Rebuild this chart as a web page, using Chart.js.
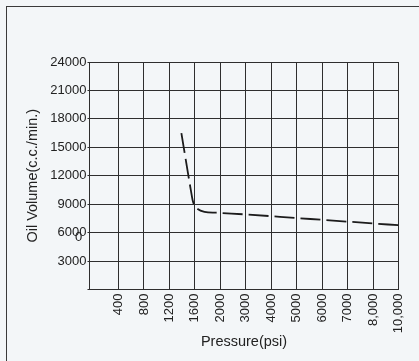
<!DOCTYPE html>
<html>
<head>
<meta charset="utf-8">
<script src="https://cdn.jsdelivr.net/npm/chart.js@4.4.1/dist/chart.umd.min.js"></script>
<style>
  html, body { margin:0; padding:0; background:#f3f6f8; }
  body { width:419px; height:361px; position:relative; overflow:hidden; }
  .frame { position:absolute; left:6px; top:6px; width:600px; height:600px; border:1px solid #3a3a3a; box-sizing:border-box; }
  #chart { position:absolute; left:0; top:0; }
</style>
</head>
<body>
<div class="frame"></div>
<canvas id="chart" width="419" height="361"></canvas>
<script>
// pressure categories along the x axis (one grid column each)
const pressureLabels = ['400','800','1200','1600','2000','3000','4000','5000','6000','7000','8,000','10,000'];
// y axis ticks
const volumeTicks = [0, 3000, 6000, 9000, 12000, 15000, 18000, 21000, 24000];
// curve: position along the category axis (1 = first label) and oil volume
const curvePos = [3.47, 3.74, 3.84, 3.91, 3.98, 4.11, 4.38, 4.84, 6, 8, 10, 12];
const curveVol = [16500, 12100, 10500, 9450, 8900, 8500, 8200, 8100, 7920, 7540, 7160, 6780];

const ink = '#222';
const gridInk = '#2e2e2e';
const font = "'Liberation Sans', Arial, sans-serif";

// the stray "0" printed under the 6000 label
const strayZero = {
  id:'strayZero',
  afterDraw(chart){
    const y = chart.scales.y;
    const ctx = chart.ctx;
    ctx.save();
    ctx.font = '13px ' + font;
    ctx.fillStyle = ink;
    ctx.textAlign = 'center';
    ctx.textBaseline = 'middle';
    ctx.fillText('0', y.right - 3 - 8, y.getPixelForValue(6000) + 5);
    ctx.restore();
  }
};

new Chart(document.getElementById('chart'), {
  type:'line',
  data:{
    datasets:[{
      data: curvePos.map((p,k)=>({x:p, y:curveVol[k]})),
      borderColor:'#1c1c1c',
      borderWidth:1.8,
      borderDash:[20,6],
      pointRadius:0,
      cubicInterpolationMode:'monotone',
      fill:false
    }]
  },
  options:{
    responsive:false,
    animation:false,
    layout:{ padding:{ top:62, right:20.5, left:0, bottom:0 } },
    plugins:{ legend:{display:false}, tooltip:{enabled:false} },
    scales:{
      x:{
        type:'linear',
        min:-0.14,
        max:pressureLabels.length,
        afterBuildTicks:(s)=>{ s.ticks = pressureLabels.map((_,k)=>({value:k+1})); },
        afterFit:(s)=>{ s.height = 361 - 289.5; },
        grid:{ color:gridInk, lineWidth:1, drawTicks:false },
        border:{ display:true, color:gridInk, width:1 },
        ticks:{
          autoSkip:false, minRotation:90, maxRotation:90, padding:4,
          color:ink, font:{family:font, size:13},
          callback:(v)=>pressureLabels[v-1] ?? ''
        },
        title:{ display:true, text:'Pressure(psi)', color:ink, font:{family:font, size:14.5}, padding:{top:0, bottom:10.5} }
      },
      y:{
        min:volumeTicks[0],
        max:volumeTicks[volumeTicks.length-1],
        afterBuildTicks:(s)=>{ s.ticks = volumeTicks.map(v=>({value:v})); },
        afterFit:(s)=>{ s.width = 89.5; },
        grid:{ color:gridInk, lineWidth:1, tickLength:2 },
        border:{ display:true, color:gridInk, width:1 },
        ticks:{
          padding:1, color:ink, font:{family:font, size:13},
          callback:(v)=> v === 0 ? '' : String(v)
        },
        title:{ display:true, text:'Oil Volume(c.c./min.)', color:ink, font:{family:font, size:14.5}, padding:{top:24, bottom:0} }
      }
    }
  },
  plugins:[strayZero]
});
</script>
</body>
</html>
